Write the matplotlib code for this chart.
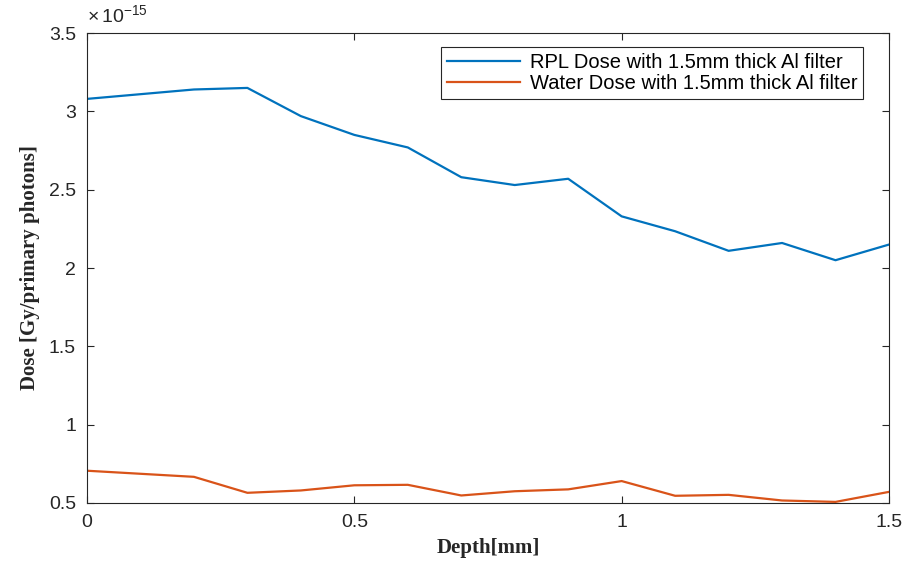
import matplotlib
matplotlib.use('Agg')
import matplotlib.pyplot as plt
from matplotlib.ticker import FuncFormatter

# data (dose in Gy/primary photon)
depth = [0.0, 0.2, 0.3, 0.4, 0.5, 0.6, 0.7, 0.8, 0.9, 1.0, 1.1, 1.2, 1.3, 1.4, 1.5]
rpl_dose = [3.08, 3.14, 3.15, 2.97, 2.85, 2.77, 2.58, 2.53, 2.57, 2.33, 2.235, 2.11, 2.16, 2.05, 2.15]
water_dose = [0.706, 0.667, 0.565, 0.58, 0.613, 0.616, 0.548, 0.575, 0.587, 0.64, 0.546, 0.552, 0.516, 0.507, 0.571]
scale = 1e-15

labels = ['RPL Dose with 1.5mm thick Al filter', 'Water Dose with 1.5mm thick Al filter']
colors = ['#0072BD', '#D95319']
dark = '#262626'

plt.rcParams['font.family'] = 'Liberation Sans'
plt.rcParams['mathtext.fontset'] = 'custom'
plt.rcParams['mathtext.rm'] = 'Liberation Sans'

fig = plt.figure(figsize=(9.09, 5.61), dpi=100)
ax = fig.add_axes([0.0957, 0.1034, 0.8823, 0.8376])

ax.plot(depth, [v * scale for v in rpl_dose], color=colors[0], lw=1.6, label=labels[0])
ax.plot(depth, [v * scale for v in water_dose], color=colors[1], lw=1.6, label=labels[1])

ax.set_xlim(0, 1.5)
ax.set_ylim(0.5e-15, 3.5e-15)
ax.set_xticks([0, 0.5, 1, 1.5])
ax.set_xticklabels(['0', '0.5', '1', '1.5'])
ax.set_yticks([v * scale for v in [0.5, 1, 1.5, 2, 2.5, 3, 3.5]])
ax.yaxis.set_major_formatter(FuncFormatter(lambda v, p: '%g' % round(v / scale, 3)))

# MATLAB-style exponent label above the y axis
ax.text(0.0, 1.012, r'$\times\,10^{-15}$', transform=ax.transAxes,
        fontsize=14, color=dark, ha='left', va='bottom')

ax.tick_params(direction='in', length=5, width=0.8, top=True, right=True,
               labelsize=14, colors=dark, pad=8)
for s in ax.spines.values():
    s.set_color(dark)
    s.set_linewidth(0.8)

ax.set_xlabel('Depth[mm]', family='Liberation Serif', fontweight='bold', fontsize=15, color=dark, labelpad=5)
ax.set_ylabel('Dose [Gy/primary photons]', family='Liberation Serif', fontweight='bold', fontsize=15, color=dark, labelpad=6)

leg = ax.legend(loc='upper right', bbox_to_anchor=(0.968, 0.971), borderaxespad=0,
                fontsize=14.5, fancybox=False, framealpha=1, edgecolor=dark,
                handlelength=3.6, borderpad=0.3, labelspacing=0.1, handletextpad=0.5)
leg.get_frame().set_linewidth(0.8)

fig.savefig('out.png', dpi=100)
